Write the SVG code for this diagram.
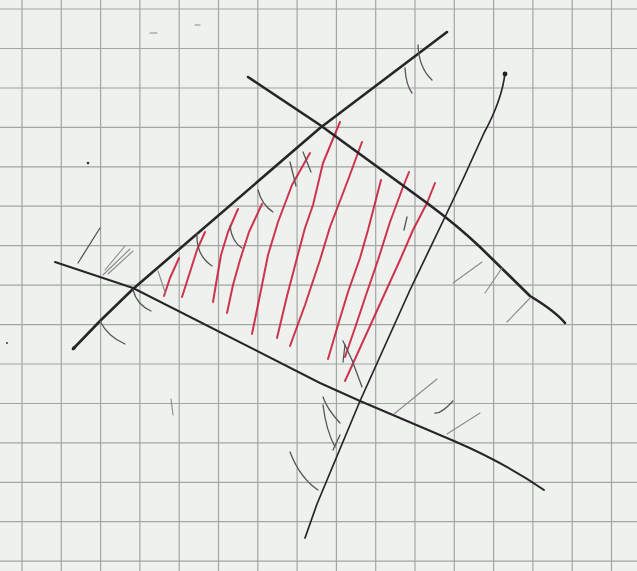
<svg xmlns="http://www.w3.org/2000/svg" width="637" height="571" viewBox="0 0 637 571">
<style>
.grid line{stroke:#a3a5a3;stroke-width:1.2}
.ink{fill:none;stroke:#262626;stroke-linecap:round;stroke-linejoin:round}
.red{fill:none;stroke:#c9203c;stroke-width:2;stroke-linecap:round;stroke-linejoin:round;opacity:0.9}
.tick{fill:none;stroke:#555;stroke-width:1.3;stroke-linecap:round;stroke-linejoin:round}
.faint{fill:none;stroke:#8a8a8a;stroke-width:1.1;stroke-linecap:round}
</style>
<rect width="637" height="571" fill="#eff1ef"/>
<g id="grid" class="grid">
<line x1="22" y1="0" x2="22" y2="571"/><line x1="61.3" y1="0" x2="61.3" y2="571"/><line x1="100.6" y1="0" x2="100.6" y2="571"/><line x1="139.9" y1="0" x2="139.9" y2="571"/><line x1="179.2" y1="0" x2="179.2" y2="571"/><line x1="218.5" y1="0" x2="218.5" y2="571"/><line x1="257.8" y1="0" x2="257.8" y2="571"/><line x1="297.1" y1="0" x2="297.1" y2="571"/><line x1="336.4" y1="0" x2="336.4" y2="571"/><line x1="375.7" y1="0" x2="375.7" y2="571"/><line x1="415" y1="0" x2="415" y2="571"/><line x1="454.3" y1="0" x2="454.3" y2="571"/><line x1="493.6" y1="0" x2="493.6" y2="571"/><line x1="532.9" y1="0" x2="532.9" y2="571"/><line x1="572.2" y1="0" x2="572.2" y2="571"/><line x1="611.5" y1="0" x2="611.5" y2="571"/>
<line x1="0" y1="9" x2="637" y2="9"/><line x1="0" y1="48.5" x2="637" y2="48.5"/><line x1="0" y1="88" x2="637" y2="88"/><line x1="0" y1="127.4" x2="637" y2="127.4"/><line x1="0" y1="166.8" x2="637" y2="166.8"/><line x1="0" y1="206.2" x2="637" y2="206.2"/><line x1="0" y1="245.7" x2="637" y2="245.7"/><line x1="0" y1="285.2" x2="637" y2="285.2"/><line x1="0" y1="324.6" x2="637" y2="324.6"/><line x1="0" y1="364" x2="637" y2="364"/><line x1="0" y1="403.5" x2="637" y2="403.5"/><line x1="0" y1="442.9" x2="637" y2="442.9"/><line x1="0" y1="482.3" x2="637" y2="482.3"/><line x1="0" y1="521.7" x2="637" y2="521.7"/><line x1="0" y1="561.1" x2="637" y2="561.1"/>
</g>
<g id="hatching-red">
<path class="red" d="M164,296 L170,278 L179,258"/>
<path class="red" d="M182,297 L190,272 L197,250 L205,232"/>
<path class="red" d="M213,302 L217,278 L221,255 L228,232 L238,209"/>
<path class="red" d="M227,313 L233,285 L240,260 L249,232 L262,204"/>
<path class="red" d="M252,334 L260,295 L268,255 L278,222 L292,185 L310,153"/>
<path class="red" d="M277,338 L287,296 L297,258 L305,228 L313,205 L323,163 L340,122"/>
<path class="red" d="M290,346 L305,305 L320,260 L330,227 L348,180 L362,142"/>
<path class="red" d="M328,359 L338,325 L348,292 L360,258 L368,230 L381,180"/>
<path class="red" d="M345,357 L356,325 L366,295 L378,260 L390,222 L403,187 L409,172"/>
<path class="red" d="M345,381 L360,348 L375,315 L400,260 L413,230 L427,203 L435,183"/>
</g>
<g id="lines">
<path id="line-a" class="ink" stroke-width="2.6" d="M73,349 L100,321 L133,289 L320,128 L447,32"/>
<path id="line-b" class="ink" stroke-width="2.6" d="M248,77 L320,125 L427,203 Q458,226 480,247 L530,296 Q555,311 565,323"/>
<path id="line-c" class="ink" stroke-width="2" d="M55,262 L133,288 L320,383 L360,401 L454,441 Q505,463 544,490"/>
<path id="line-d" class="ink" stroke="#333" stroke-width="1.7" d="M505,73 Q502,100 484,133 L464,177 L445,217 L410,290 L360,401 L317,504 L305,538"/>
<circle cx="505" cy="74" r="2.4" fill="#222"/>
<circle cx="74" cy="348" r="1.8" fill="#222"/>
</g>
<g id="ticks">
<path class="tick" d="M133,290 Q137,305 151,311"/>
<path class="tick" d="M100,321 Q108,337 125,344"/>
<path class="faint" d="M158,271 L165,292"/>
<path class="tick" d="M197,234 Q196,255 212,266"/>
<path class="tick" d="M230,226 Q232,242 242,248"/>
<path class="tick" d="M258,190 Q262,205 273,212"/>
<path class="tick" d="M290,162 L296,186"/>
<path class="tick" d="M303,152 L311,172"/>
<path class="tick" d="M405,68 Q406,85 412,93"/>
<path class="tick" d="M418,45 Q419,68 432,80"/>
<path class="tick" d="M100,228 L78,263"/>
<path class="faint" d="M103,275 L130,249"/>
<path class="faint" d="M108,274 L133,251"/>
<path class="faint" d="M105,270 L125,246"/>
<path class="faint" d="M394,414 L437,379"/>
<path class="tick" d="M435,413 Q441,414 453,401"/>
<path class="faint" d="M447,434 L480,413"/>
<path class="faint" d="M453,283 L482,262"/>
<path class="faint" d="M485,293 L502,268"/>
<path class="faint" d="M507,322 L530,298"/>
<path class="tick" d="M323,397 Q327,409 340,423"/>
<path class="tick" d="M323,405 Q326,430 335,447"/>
<path class="tick" d="M340,435 L333,450"/>
<path class="tick" d="M290,452 Q300,478 318,490"/>
<path class="tick" d="M343,341 L352,360 L362,387"/>
<path class="tick" d="M345,345 L343,362"/>
<path class="tick" d="M407,217 L404,230"/>
</g>
<g id="specks" fill="#333">
<circle cx="88" cy="163" r="1.3"/>
<circle cx="7" cy="343" r="1"/>
<path class="faint" d="M171,399 L173,415"/>
<path class="faint" d="M150,33 L157,33"/>
<path class="faint" d="M195,25 L200,25"/>
</g>
</svg>
